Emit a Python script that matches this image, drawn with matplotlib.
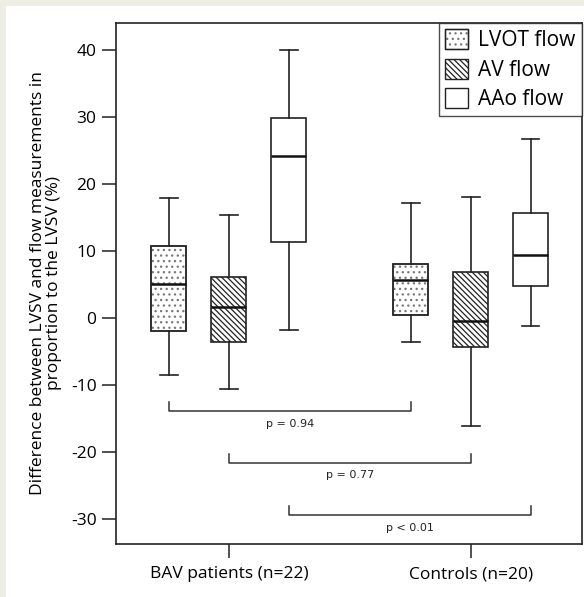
import numpy as np
import matplotlib
matplotlib.use('Agg')
import matplotlib.pyplot as plt
from matplotlib.patches import Patch, Rectangle

plt.rcParams['font.family'] = ['Open Sans', 'DejaVu Sans']
plt.rcParams['hatch.linewidth'] = 0.9
plt.rcParams['axes.unicode_minus'] = False

# groups and flow types
groups = ['BAV patients (n=22)', 'Controls (n=20)']
flows = ['LVOT flow', 'AV flow', 'AAo flow']
hatches = ['...', '\\\\\\\\\\\\', '']

# box statistics: [BAV, Controls]
whislo = {'LVOT flow': [-8.5, -3.7], 'AV flow': [-10.6, -16.2], 'AAo flow': [-1.9, -1.3]}
q1 = {'LVOT flow': [-2.0, 0.4], 'AV flow': [-3.7, -4.4], 'AAo flow': [11.3, 4.7]}
med = {'LVOT flow': [5.0, 5.6], 'AV flow': [1.6, -0.5], 'AAo flow': [24.1, 9.3]}
q3 = {'LVOT flow': [10.7, 8.0], 'AV flow': [6.1, 6.8], 'AAo flow': [29.8, 15.7]}
whishi = {'LVOT flow': [17.8, 17.1], 'AV flow': [15.4, 18.0], 'AAo flow': [40.0, 26.7]}

# comparisons between groups, per flow type
p_labels = ['p = 0.94', 'p = 0.77', 'p < 0.01']
bracket_y = [-14.0, -21.7, -29.5]

fig = plt.figure(figsize=(5.84, 5.97), dpi=100)
fig.patch.set_facecolor('#eeeee4')
fig.add_artist(Rectangle((6 / 584, 0), 1, 1 - 6 / 597, transform=fig.transFigure,
                         facecolor='white', edgecolor='none', zorder=-1))
ax = fig.add_axes([116 / 584, 1 - 544 / 597, 466 / 584, 521 / 597])

offset = 0.248
width = 0.145
centers = np.arange(1, len(groups) + 1)

for k, fl in enumerate(flows):
    stats = []
    for g in range(len(groups)):
        stats.append({'whislo': whislo[fl][g], 'q1': q1[fl][g], 'med': med[fl][g],
                      'q3': q3[fl][g], 'whishi': whishi[fl][g], 'fliers': []})
    pos = centers + (k - 1) * offset
    ec = '#777777' if k == 0 else '#222222'
    b = ax.bxp(stats, positions=pos, widths=width, patch_artist=True,
               showfliers=False, manage_ticks=False,
               boxprops=dict(facecolor='white', edgecolor=ec, linewidth=1.2),
               medianprops=dict(color='#111111', linewidth=1.8),
               whiskerprops=dict(color='#222222', linewidth=1.2),
               capprops=dict(color='#222222', linewidth=1.2))
    for box in b['boxes']:
        box.set_hatch(hatches[k])
    if k == 0:
        # darker outline drawn over the lighter dotted fill
        for g in range(len(groups)):
            ax.add_patch(Rectangle((pos[g] - width / 2, q1[fl][g]), width,
                                   q3[fl][g] - q1[fl][g], fill=False,
                                   edgecolor='#222222', linewidth=1.2, zorder=2.1))
        for m in b['medians']:
            m.set_zorder(2.2)

# brackets with p values
tip = 1.4
for k in range(len(flows)):
    x0 = centers[0] + (k - 1) * offset
    x1 = centers[1] + (k - 1) * offset
    y = bracket_y[k]
    ax.plot([x0, x0, x1, x1], [y + tip, y, y, y + tip], color='#333333', lw=1.1)
    ax.text((x0 + x1) / 2, y - 1.1, p_labels[k], ha='center', va='top', fontsize=8,
            family=['DejaVu Sans'], color='#222222')

ax.set_xlim(0.533, 2.46)
ax.set_ylim(-33.8, 44.0)
ax.set_xticks(centers)
ax.set_xticklabels(groups)
ax.set_yticks(np.arange(-30, 41, 10))
ax.tick_params(axis='both', labelsize=12.5, length=10, width=1.1, color='#222222')
ax.tick_params(axis='y', pad=4)
ax.tick_params(axis='x', pad=6)
for s in ax.spines.values():
    s.set_color('#222222')
    s.set_linewidth(1.2)

ax.set_ylabel('Difference between LVSV and flow measurements in\nproportion to the LVSV (%)',
              fontsize=12.5, linespacing=1.0, labelpad=6)

handles = []
for i, (f, h) in enumerate(zip(flows, hatches)):
    if i == 0:
        handles.append((Patch(facecolor='white', edgecolor='#777777', hatch=h),
                        Patch(fill=False, edgecolor='#222222')))
    else:
        handles.append(Patch(facecolor='white', edgecolor='#222222', hatch=h))
leg = ax.legend(handles=handles, labels=flows, loc='upper right', bbox_to_anchor=(1, 1),
                borderaxespad=0, fancybox=False, fontsize=15, handlelength=1.1,
                handleheight=1.1, handletextpad=0.5, labelspacing=0.35,
                borderpad=0.3)
leg.get_frame().set_edgecolor('#222222')
leg.get_frame().set_linewidth(1.0)

fig.savefig('out.png', dpi=100, facecolor=fig.get_facecolor())
